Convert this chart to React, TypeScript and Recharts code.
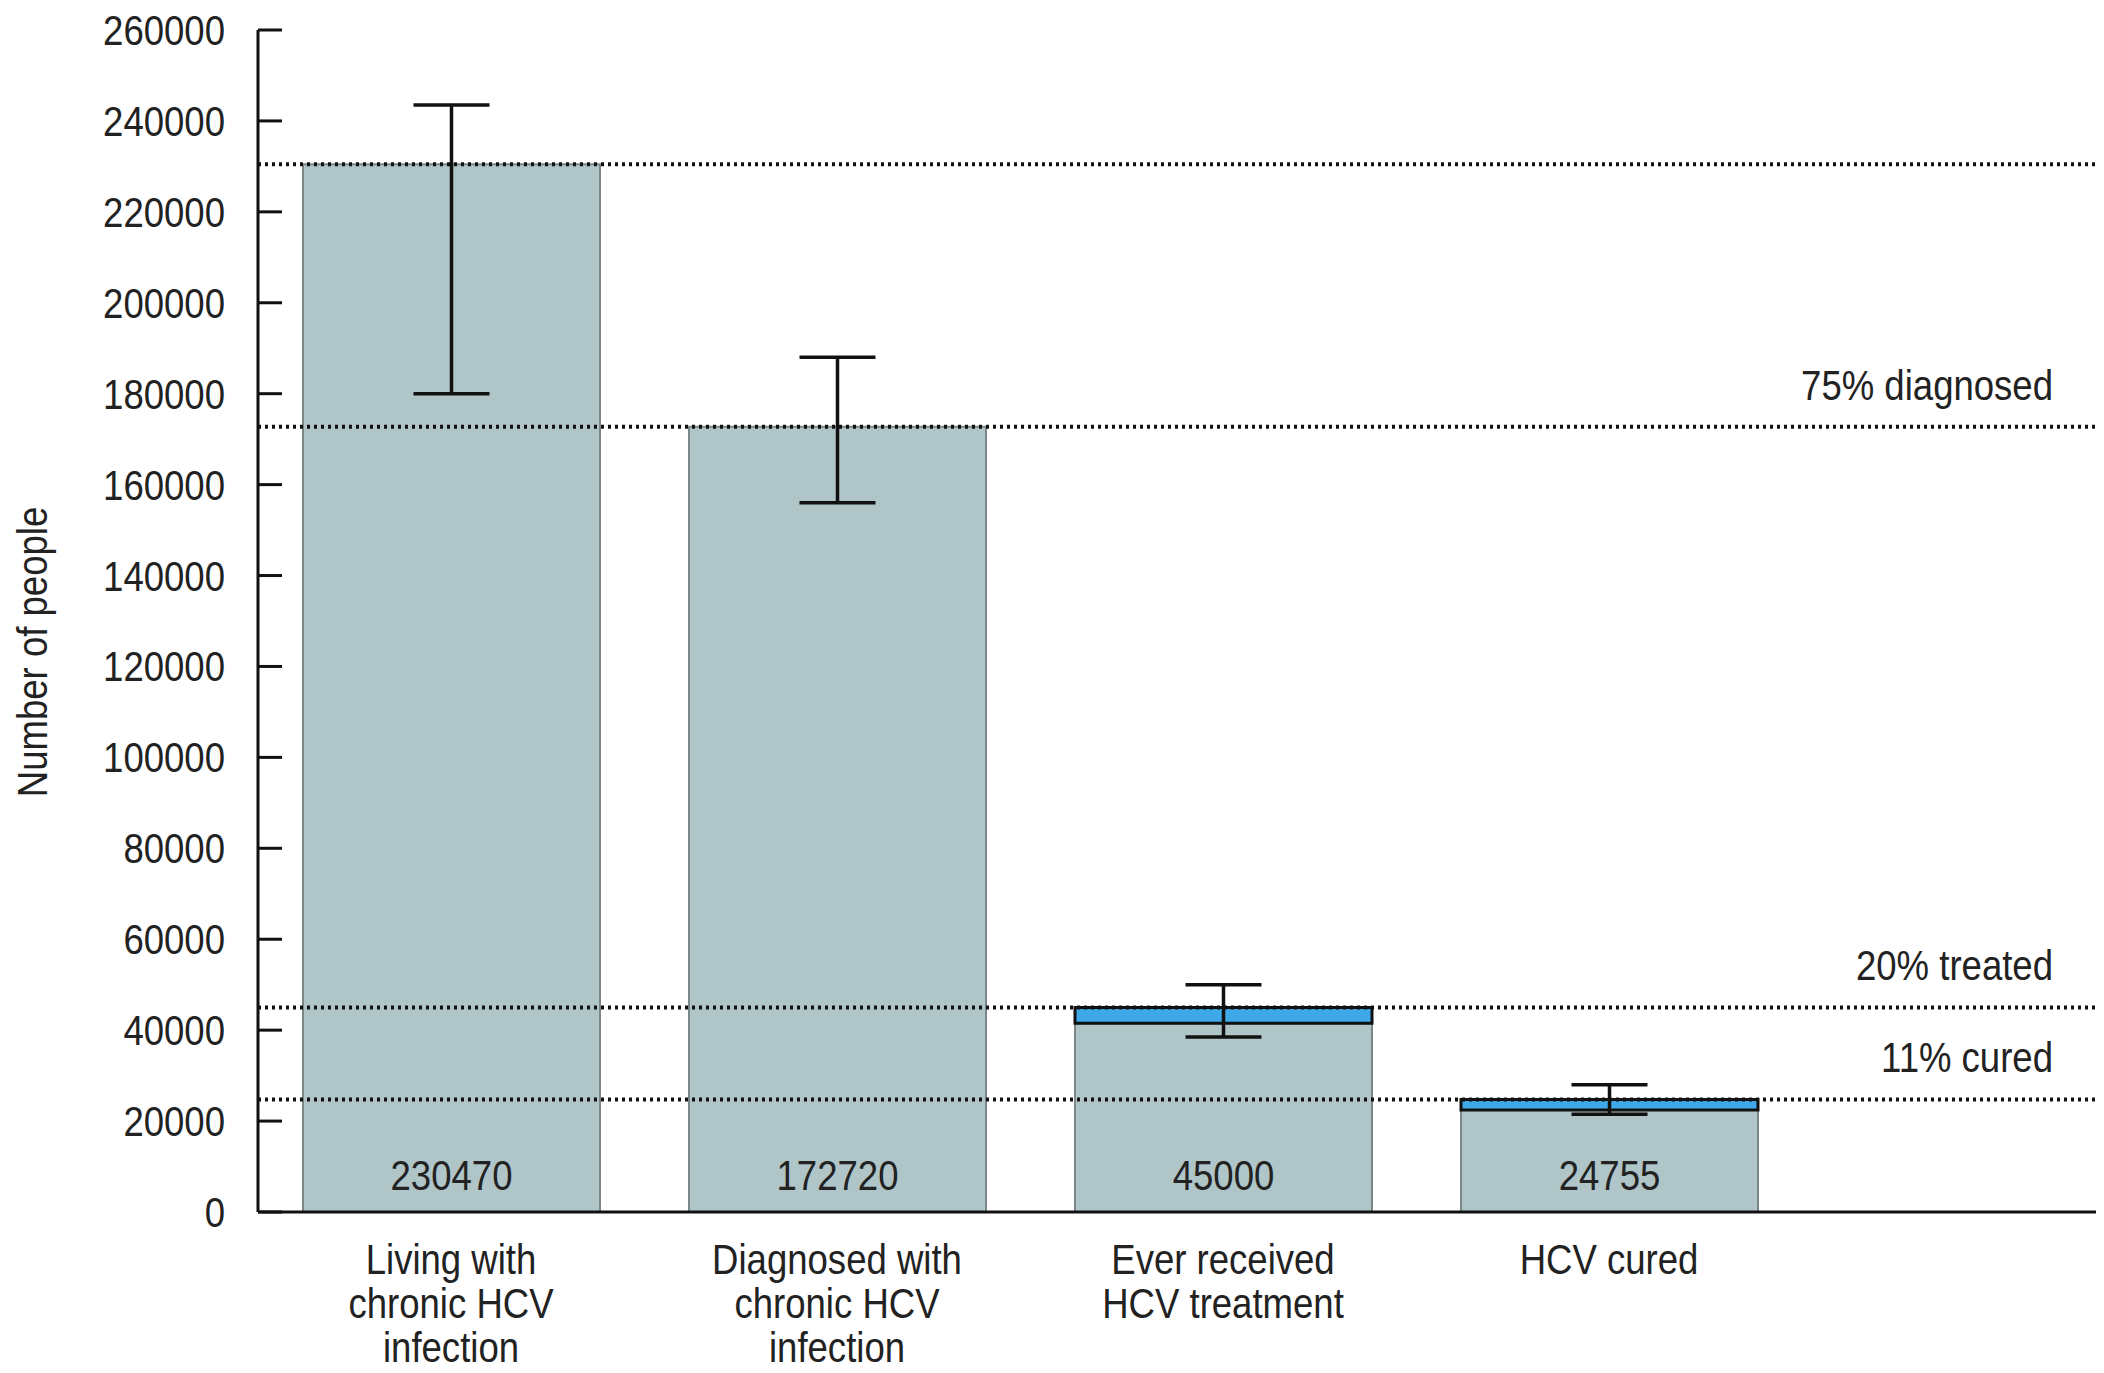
import { BarChart, Bar, XAxis, YAxis, ErrorBar, ReferenceLine, LabelList, Label } from 'recharts';

// categories, split into the lines used under the axis
const categories = [
  ['Living with', 'chronic HCV', 'infection'],
  ['Diagnosed with', 'chronic HCV', 'infection'],
  ['Ever received', 'HCV treatment'],
  ['HCV cured'],
];
const totals = [230470, 172720, 45000, 24755];
const recentPart = [0, 0, 3500, 2300]; // blue top segment
const ciLow = [180000, 156000, 38500, 21500];
const ciHigh = [243500, 188000, 50000, 28000];
const yTicks = [0, 20000, 40000, 60000, 80000, 100000, 120000, 140000, 160000, 180000, 200000, 220000, 240000, 260000];
const cascadeLines = [230470, 172720, 45000, 24755];
const cascadeLabels = ['', '75% diagnosed', '20% treated', '11% cured'];

const FONT = "'Liberation Sans', Arial, sans-serif";
const INK = '#222';
const SQUEEZE = 0.87; // the original face is a narrow one

const data = categories.map((lines, i) => {
  const err = [totals[i] - ciLow[i], ciHigh[i] - totals[i]];
  return {
    name: lines.join(' '),
    base: totals[i] - recentPart[i],
    recent: recentPart[i],
    total: totals[i],
    // whisker sits on whichever segment is on top of the stack
    errBase: recentPart[i] > 0 ? null : err,
    errTop: recentPart[i] > 0 ? err : null,
  };
});

function NText({ x, y, anchor = 'middle', rotate = 0, children }: any) {
  return (
    <g transform={`translate(${x},${y}) rotate(${rotate}) scale(${SQUEEZE},1)`}>
      <text x={0} y={0} textAnchor={anchor} fontFamily={FONT} fontSize={42} fill={INK}>
        {children}
      </text>
    </g>
  );
}

function YTick({ x, y, payload }: any) {
  return (
    <g>
      <line x1={x + 33} x2={x + 57} y1={y} y2={y} stroke="#111" strokeWidth={3} />
      <NText x={x} y={y + 15} anchor="end">
        {payload.value}
      </NText>
    </g>
  );
}

function XTick({ x, y, payload }: any) {
  const lines = categories[payload.index] || [];
  return (
    <NText x={x} y={y + 62}>
      {lines.map((l, i) => (
        <tspan key={i} x={0} dy={i === 0 ? 0 : 44}>
          {l}
        </tspan>
      ))}
    </NText>
  );
}

export default function App() {
  return (
    <div style={{ position: 'absolute', left: 0, top: 0, width: 2104, height: 1373, background: '#fff' }}>
      <BarChart width={2104} height={1373} data={data} margin={{ top: 30, right: 8, bottom: 0, left: 0 }} barSize={297}>
        <XAxis
          dataKey="name"
          height={161}
          padding={{ left: 0, right: 294 }}
          tickLine={false}
          tickSize={0}
          tickMargin={0}
          axisLine={{ stroke: '#111', strokeWidth: 3 }}
          tick={<XTick />}
          interval={0}
        />
        <YAxis
          width={258}
          domain={[0, 260000]}
          ticks={yTicks}
          interval={0}
          tickLine={false}
          tickSize={0}
          tickMargin={33}
          axisLine={{ stroke: '#111', strokeWidth: 3 }}
          tick={<YTick />}
        >
          <Label
            content={() => (
              <NText x={47} y={652} rotate={-90}>
                Number of people
              </NText>
            )}
          />
        </YAxis>
        <Bar dataKey="base" stackId="a" fill="#afc5c8" stroke="#7a8687" strokeWidth={2} isAnimationActive={false}>
          <ErrorBar dataKey="errBase" direction="y" width={38} stroke="#111" strokeWidth={3.5} />
          <LabelList
            dataKey="total"
            content={(p: any) => (
              <NText x={p.x + p.width / 2} y={p.y + p.height - 22}>
                {p.value}
              </NText>
            )}
          />
        </Bar>
        <Bar dataKey="recent" stackId="a" fill="#3ea8e8" stroke="#111" strokeWidth={3} isAnimationActive={false}>
          <ErrorBar dataKey="errTop" direction="y" width={38} stroke="#111" strokeWidth={3.5} />
        </Bar>
        {cascadeLines.map((v, i) => (
          <ReferenceLine
            key={i}
            y={v}
            stroke="#111"
            strokeWidth={4}
            strokeDasharray="3 4"
            label={
              cascadeLabels[i]
                ? (p: any) => (
                    <NText x={p.viewBox.x + p.viewBox.width - 43} y={p.viewBox.y - 27} anchor="end">
                      {cascadeLabels[i]}
                    </NText>
                  )
                : undefined
            }
          />
        ))}
      </BarChart>
    </div>
  );
}
